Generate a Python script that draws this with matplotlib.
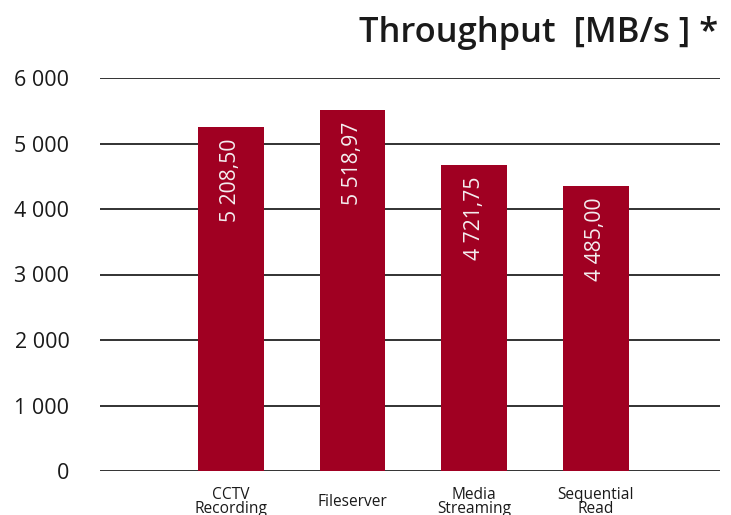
import matplotlib
matplotlib.use("Agg")
import matplotlib.pyplot as plt

categories = ["CCTV\nRecording", "Fileserver", "Media\nStreaming", "Sequential\nRead"]
bar_heights = [5253, 5512, 4675, 4355]
value_labels = ["5 208,50", "5 518,97", "4 721,75", "4 485,00"]
yticks = [0, 1000, 2000, 3000, 4000, 5000, 6000]
ytick_labels = ["0", "1 000", "2 000", "3 000", "4 000", "5 000", "6 000"]
title = "Throughput  [MB/s ] *"

plt.rcParams['font.family'] = ['Open Sans', 'DejaVu Sans']
W, H = 731, 515
fig = plt.figure(figsize=(W / 100, H / 100), dpi=100)
ax = fig.add_axes([100 / W, (H - 471) / H, 620 / W, 393 / H])

x = list(range(len(categories)))
bar_color = "#A00022"
ax.bar(x, bar_heights, width=0.54, color=bar_color, zorder=3)
ax.set_xlim(-1.076, 4.019)
ax.set_ylim(0, 6000)

for t in yticks:
    ax.axhline(t, color="#222222", lw=1.3, zorder=1)

for xi, h, lab in zip(x, bar_heights, value_labels):
    ax.annotate(lab, (xi, h), xytext=(0, -12), textcoords="offset pixels",
                rotation=90, ha="center", va="top", color="#f4eef0",
                fontsize=15.2, fontweight="normal", zorder=4)

ax.set_yticks(yticks)
ax.set_yticklabels(ytick_labels, fontsize=15.5, color="#1a1a1a")
ax.tick_params(axis="y", length=0, pad=22)
ax.set_xticks(x)
ax.set_xticklabels([])
ax.tick_params(axis="x", length=0)
for xi, c in zip(x, categories):
    ax.annotate(c, (xi, 0), xytext=(0, -31), textcoords="offset pixels",
                ha="center", va="center", fontsize=11.2, color="#1a1a1a",
                linespacing=0.88, annotation_clip=False)

for s in ax.spines.values():
    s.set_visible(False)

fig.text(718 / W, 1 - 42 / H, title, ha="right", va="baseline",
         fontsize=24.8, fontweight="semibold", color="#1a1a1a")

fig.savefig("out.png", dpi=100)
